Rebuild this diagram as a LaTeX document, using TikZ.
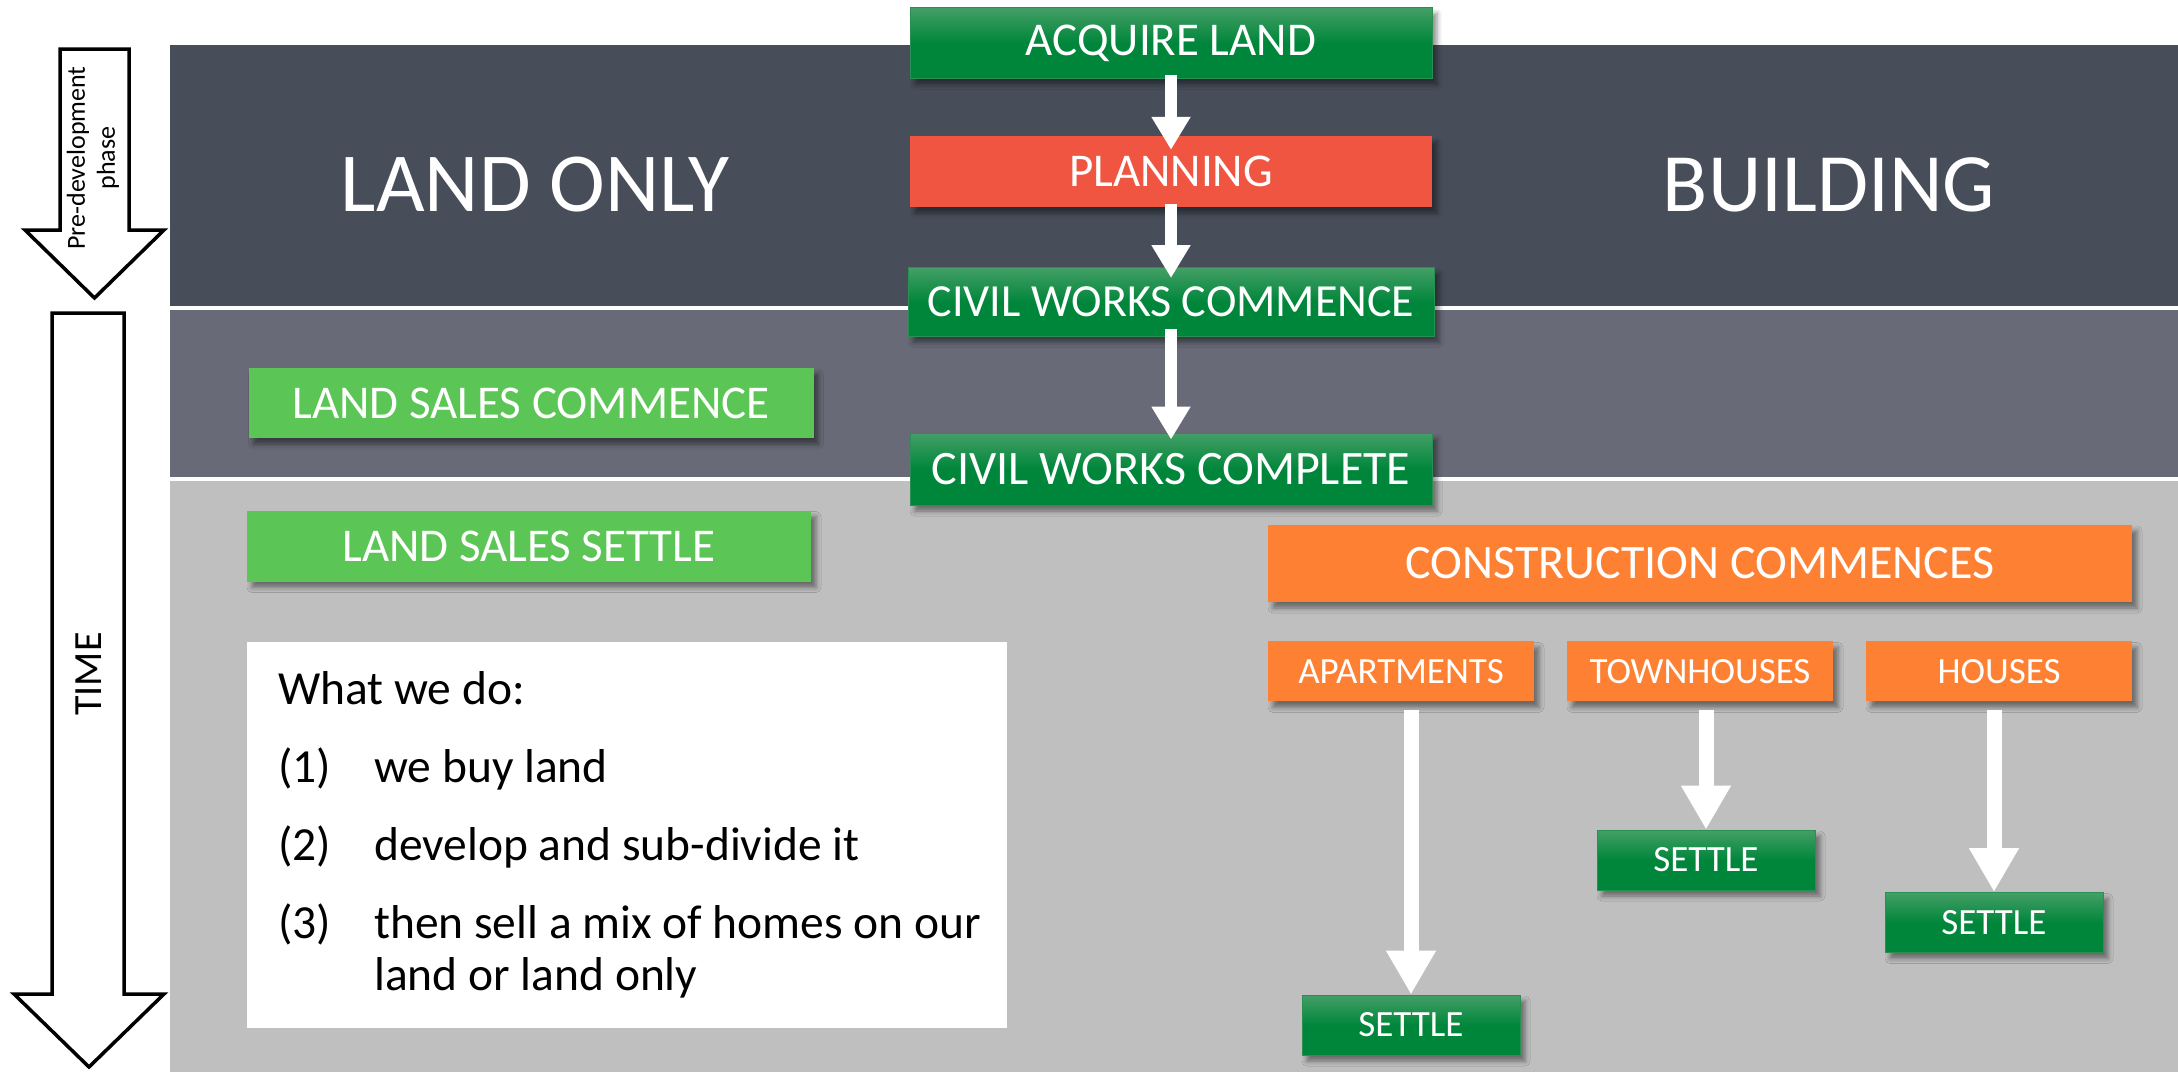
\documentclass[tikz,border=0pt]{standalone}
\usepackage{fontspec}
\setmainfont{Carlito}
\usetikzlibrary{arrows.meta,positioning,shadows.blur}

\definecolor{bandtop}{HTML}{474E5A}
\definecolor{bandmid}{HTML}{686B77}
\definecolor{bandlow}{HTML}{BFBFBF}
\definecolor{grn}{HTML}{00863B}
\definecolor{grnhi}{HTML}{449F66}
\definecolor{grnedge}{HTML}{2A8F52}
\definecolor{lime}{HTML}{5BC655}
\definecolor{planred}{HTML}{EF5541}
\definecolor{orng}{HTML}{FE8033}

\begin{document}
\begin{tikzpicture}[
  x=1pt, y=-1pt,
  font=\fontsize{47}{56}\selectfont,
  stage/.style={text=white, inner sep=0pt, minimum width=522pt, minimum height=71pt,
    blur shadow={shadow xshift=5pt, shadow yshift=-6pt, shadow blur radius=5pt, shadow opacity=45}},
  civil/.style={stage, draw=grnedge, line width=1pt, top color=grnhi, bottom color=grn, middle color=grn},
  sale/.style={stage, fill=lime, minimum width=565pt, minimum height=70pt},
  build/.style={stage, fill=orng},
  kind/.style={build, minimum width=266pt, minimum height=60pt, font=\fontsize{37}{44}\selectfont},
  settle/.style={civil, minimum width=218pt, minimum height=60pt, font=\fontsize{37}{44}\selectfont},
  flow/.style={white, line width=12pt, -{Triangle[width=37pt,length=33pt]}},
  bigflow/.style={white, line width=15pt, -{Triangle[width=47pt,length=44pt]}},
  timeline/.style={draw=black, line width=3.5pt, fill=white, line join=miter},
  heading/.style={text=white, inner sep=0pt},
]
\useasboundingbox (0,0) rectangle (2178,1074);

% three phase bands
\fill[bandtop] (170,45) rectangle (2178,306);
\fill[bandmid] (170,310) rectangle (2178,477);
\fill[bandlow] (170,481) rectangle (2178,1072);

% time axis on the left
\draw[timeline] (60,49) -- (129,49) -- (129,230) -- (164,230) -- (94.5,298) -- (25,230) -- (60,230) -- cycle;
\draw[timeline] (52,313) -- (124,313) -- (124,994) -- (164,994) -- (89,1067) -- (14,994) -- (52,994) -- cycle;
\node[rotate=90, align=center, font=\fontsize{26}{30}\selectfont] (predev) at (93,158) {Pre-development\\phase};
\node[rotate=90, font=\fontsize{40}{48}\selectfont] (timeaxis) at (89,674) {TIME};

\node[heading, font=\fontsize{84}{100}\selectfont] (landonly) at (535,185) {LAND ONLY};
\node[heading, font=\fontsize{83}{99}\selectfont] (building) at (1829,185) {BUILDING};

% shared steps
\node[civil] (acquire) at (1171,43) {ACQUIRE LAND};
\node[stage, fill=planred] (planning) at (1171,171.5) {PLANNING};
\node[civil, minimum width=526pt, minimum height=69pt, font=\fontsize{46}{55}\selectfont] (cwstart) at (1171,302) {CIVIL WORKS COMMENCE};
\node[civil, minimum height=72pt, font=\fontsize{48}{57}\selectfont] (cwdone) at (1171,469) {CIVIL WORKS COMPLETE};

% land only
\node[sale] (salesstart) at (531,403) {LAND SALES COMMENCE};
\node[sale, minimum width=564pt, minimum height=71pt] (salessettle) at (529,546) {LAND SALES SETTLE};
\node[fill=white, anchor=north west, minimum height=386pt, text width=698pt,
  inner xsep=31pt, align=flush left, font=\fontsize{47.5}{52}\selectfont] (notes) at (247,642) {%
  What we do:\\[26pt]
  \makebox[96pt][l]{(1)}we buy land\\[26pt]
  \makebox[96pt][l]{(2)}develop and sub-divide it\\[26pt]
  \mbox{\makebox[96pt][l]{(3)}then sell a mix of homes on our}\\
  \hspace*{96pt}land or land only};

% building
\node[build, minimum width=864pt, minimum height=77pt, font=\fontsize{48}{57}\selectfont] (construct) at (1700,563.5) {CONSTRUCTION COMMENCES};
\node[kind, below=39pt of construct.south west, anchor=north west] (apart) {APARTMENTS};
\node[kind, below=39pt of construct.south] (town) {TOWNHOUSES};
\node[kind, below=39pt of construct.south east, anchor=north east] (house) {HOUSES};
\node[settle] (settleA) at (1411,1025) {SETTLE};
\node[settle] (settleT) at (1706,860) {SETTLE};
\node[settle] (settleH) at (1994,922.5) {SETTLE};

\draw[flow, shorten <=-4pt, shorten >=-14pt] (acquire.south) -- (planning.north);
\draw[flow, shorten <=-3pt, shorten >=-11pt] (planning.south) -- (cwstart.north);
\draw[flow, shorten <=-8pt, shorten >=-7pt] (cwstart.south) -- (cwdone.north);

\draw[bigflow, shorten <=8pt] (apart.south -| settleA.north) -- (settleA.north);
\draw[bigflow, shorten <=8pt] (town.south -| settleT.north) -- (settleT.north);
\draw[bigflow, shorten <=8pt] (house.south -| settleH.north) -- (settleH.north);
\end{tikzpicture}
\end{document}
